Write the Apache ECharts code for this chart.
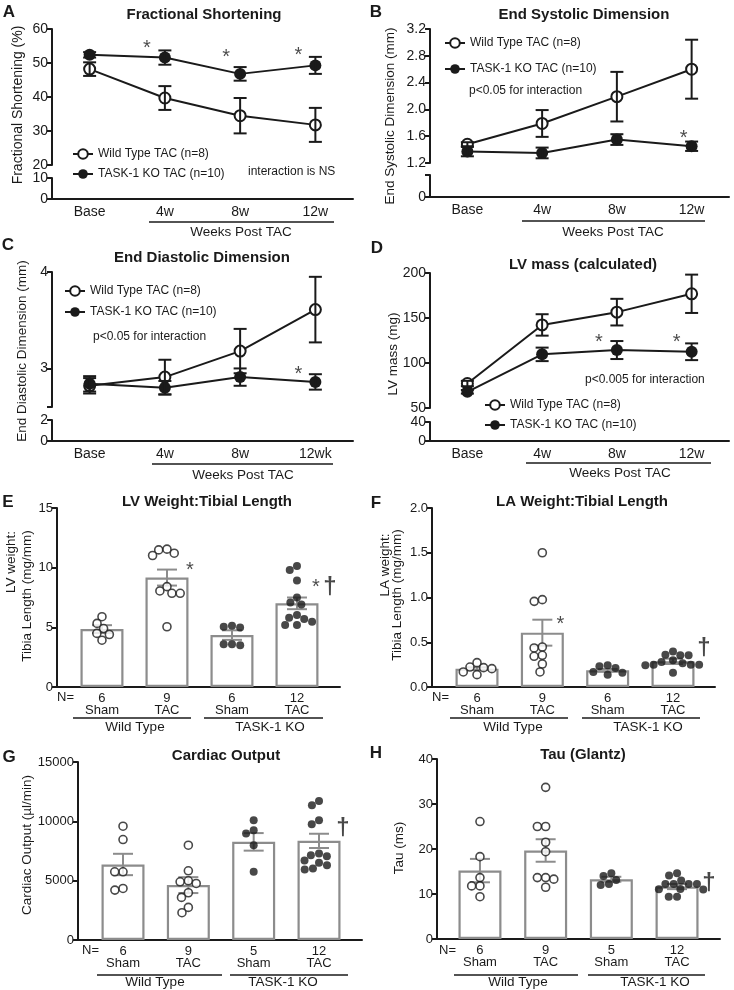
<!DOCTYPE html>
<html><head><meta charset="utf-8">
<script src="https://cdn.jsdelivr.net/npm/echarts@6.0.0/dist/echarts.min.js"></script>
<style>html,body{margin:0;padding:0;background:#fff;overflow:hidden}#c{width:734px;height:990px}</style>
</head><body><div id="c"></div>
<script>
// ================= DATA =================
const timeCats = ['Base', '4w', '8w', '12w'];
const timeCatsC = ['Base', '4w', '8w', '12wk'];
const wtName = 'Wild Type TAC (n=8)';
const koName = 'TASK-1 KO TAC (n=10)';

// A: Fractional Shortening (%), mean and SEM
const fsWT = [48.2, 39.7, 34.5, 31.8];
const fsWTerr = [2.0, 3.5, 5.2, 5.0];
const fsKO = [52.4, 51.6, 46.8, 49.3];
const fsKOerr = [0.8, 2.1, 2.0, 2.5];
// B: End Systolic Dimension (mm)
const esdWT = [1.48, 1.79, 2.19, 2.60];
const esdWTerr = [0.03, 0.20, 0.37, 0.44];
const esdKO = [1.37, 1.35, 1.55, 1.45];
const esdKOerr = [0.07, 0.08, 0.08, 0.07];
// C: End Diastolic Dimension (mm)
const eddWT = [2.82, 2.91, 3.18, 3.61];
const eddWTerr = [0.08, 0.18, 0.23, 0.34];
const eddKO = [2.84, 2.80, 2.91, 2.86];
const eddKOerr = [0.08, 0.07, 0.09, 0.08];
// D: LV mass (mg)
const lvmWT = [77.2, 142.3, 156.5, 176.9];
const lvmWTerr = [3, 11.9, 14.8, 21.3];
const lvmKO = [68, 109.6, 114.4, 112.5];
const lvmKOerr = [2, 7.5, 10, 9.3];

// bar panels: groups
const subLabels = ['Sham', 'TAC', 'Sham', 'TAC'];
const groupLabels = ['Wild Type', 'TASK-1 KO'];
// E: LV weight : tibia length
const lvwN = [6, 9, 6, 12];
const lvwMean = [4.85, 9.17, 4.35, 7.01];
const lvwSem = [0.33, 0.67, 0.40, 0.49];
const lvwPts = [
  [5.89, 5.33, 4.90, 4.49, 4.40, 3.92],
  [11.49, 11.02, 11.21, 11.55, 8.41, 7.85, 7.85, 8.05, 5.05],
  [4.99, 5.05, 5.13, 3.59, 3.50, 3.59],
  [10.15, 9.81, 8.92, 6.92, 7.09, 7.51, 5.80, 5.47, 5.19, 5.19, 5.69, 6.03]
];
// F: LA weight : tibia length
const lawN = [6, 9, 6, 12];
const lawMean = [0.205, 0.607, 0.186, 0.287];
const lawSem = [0.015, 0.145, 0.015, 0.03];
const lawPts = [
  [0.223, 0.205, 0.272, 0.168, 0.138, 0.216],
  [1.50, 0.957, 0.976, 0.447, 0.354, 0.436, 0.343, 0.257, 0.168],
  [0.231, 0.168, 0.138, 0.160, 0.212, 0.242],
  [0.361, 0.354, 0.354, 0.398, 0.298, 0.279, 0.25, 0.16, 0.242, 0.25, 0.265, 0.25]
];
// G: Cardiac output (ul/min)
const coN = [6, 9, 5, 12];
const coMean = [6364, 4626, 8270, 8354];
const coSem = [900, 670, 740, 600];
const coPts = [
  [9588, 8466, 5747, 5747, 4205, 4345],
  [7990, 5831, 4990, 4766, 4906, 3981, 3588, 2747, 2299],
  [10092, 9251, 8971, 7990, 5747],
  [11354, 11719, 10092, 9756, 7065, 7289, 7149, 6504, 6700, 6308, 5943, 6027]
];
// H: Tau (ms)
const tauN = [6, 9, 5, 12];
const tauMean = [15.2, 19.67, 13.28, 11.65];
const tauSem = [2.6, 2.5, 0.55, 0.57];
const tauPts = [
  [26.1, 18.3, 13.65, 11.8, 11.8, 9.4],
  [33.7, 25.0, 25.0, 21.5, 19.4, 13.65, 13.3, 13.65, 11.5],
  [13.1, 14.6, 14.0, 12.0, 12.2],
  [13.0, 14.6, 14.1, 12.2, 12.2, 12.2, 11.1, 11.05, 9.4, 9.4, 12.2, 11.0]
];

// significance marks: [x (category), y (value), symbol]
const marksA = [[1, 54.4, '*'], [2, 51.5, '*'], [3, 52.1, '*']];
const marksB = [[3, 1.573, '*']];
const marksC = [[3, 2.94, '*']];
const marksD = [[2, 123.3, '*'], [3, 123.3, '*']];
const marksE = [[1, 9.8, '*'], [3, 8.38, '*'], [3, 8.38, '†']];
const marksF = [[1, 0.704, '*'], [3, 0.436, '†']];
const marksG = [[3, 9438, '†']];
const marksH = [[3, 12.44, '†']];

// ================= STYLE / LAYOUT =================
const FONT = '"Liberation Sans", Arial, Helvetica, sans-serif';
const INK = '#1a1a1a';
const GRAY = '#8c8c8c';

const option = {
  animation: false, backgroundColor: '#fff',
  textStyle: { fontFamily: FONT, color: INK },
  grid: [], xAxis: [], yAxis: [], series: [], legend: [], graphic: []
};

function addGrid(r) {
  option.grid.push(Object.assign({ outerBoundsMode: 'none', containLabel: false, show: false }, r));
  return option.grid.length - 1;
}
function yAxisDef(g, c) {
  const ax = {
    gridIndex: g, type: 'value', min: c.min, max: c.max,
    axisLine: { show: true, onZero: false, lineStyle: { color: INK, width: 2 } },
    axisTick: { show: true, length: 5, lineStyle: { color: INK, width: 2 } },
    axisLabel: { color: INK, fontSize: c.fs || 14, margin: 4, fontFamily: FONT, formatter: c.fmt || (v => String(v)) },
    splitLine: { show: false }
  };
  if (c.interval != null) ax.interval = c.interval;
  if (c.labels) ax.axisLabel.customValues = c.labels;
  if (c.ticks) ax.axisTick.customValues = c.ticks;
  return ax;
}
function errSeries(xi, yi, means, errs, cap, color, width, z) {
  return {
    type: 'custom', xAxisIndex: xi, yAxisIndex: yi, z: z, silent: true, clip: false,
    data: means.map((m, i) => [i, m - errs[i], m + errs[i]]),
    renderItem: (params, api) => {
      const lo = api.coord([api.value(0), api.value(1)]);
      const hi = api.coord([api.value(0), api.value(2)]);
      const h = cap / 2, st = { stroke: color, lineWidth: width };
      return { type: 'group', children: [
        { type: 'line', shape: { x1: lo[0], y1: lo[1], x2: hi[0], y2: hi[1] }, style: st },
        { type: 'line', shape: { x1: hi[0] - h, y1: hi[1], x2: hi[0] + h, y2: hi[1] }, style: st },
        { type: 'line', shape: { x1: lo[0] - h, y1: lo[1], x2: lo[0] + h, y2: lo[1] }, style: st }
      ] };
    }
  };
}
function markSeries(xi, yi, marks, dxStar, dxDag) {
  return {
    type: 'scatter', xAxisIndex: xi, yAxisIndex: yi, silent: true, symbolSize: 0, z: 6,
    itemStyle: { color: 'transparent' },
    data: marks.map(m => ({
      value: [m[0], m[1]],
      label: { formatter: m[2], offset: [m[2] === '*' ? dxStar[m[0]] || 0 : dxDag, 0],
               fontSize: m[2] === '*' ? 20 : 24, fontWeight: m[2] === '*' ? 'normal' : 'bold' }
    })),
    label: { show: true, position: 'inside', color: INK, fontFamily: FONT }
  };
}
function text(x, y, s, o) {
  return Object.assign({ type: 'text', x: x, y: y, silent: true,
    style: Object.assign({ text: s, fill: INK, fontFamily: FONT, fontSize: 13.5, align: 'center', verticalAlign: 'middle' }, o || {}) });
}
function rtext(x, y, s, fs) {
  return { type: 'text', x: x, y: y, rotation: Math.PI / 2, silent: true,
    style: { text: s, fill: INK, fontFamily: FONT, fontSize: fs || 13.5, align: 'center', verticalAlign: 'middle' } };
}
function hline(x1, x2, y) {
  return { type: 'line', silent: true, shape: { x1: x1, y1: y, x2: x2, y2: y }, style: { stroke: INK, lineWidth: 1.5 } };
}

// ---------- line panels ----------
function linePanel(p) {
  const gu = addGrid(p.upper), gl = addGrid(p.lower);
  const xu = option.xAxis.push({ gridIndex: gu, type: 'category', data: p.cats, show: false, boundaryGap: true }) - 1;
  option.xAxis.push({
    gridIndex: gl, type: 'category', data: p.cats, boundaryGap: true,
    axisLine: { lineStyle: { color: INK, width: 2 } },
    axisTick: { alignWithLabel: true, length: 5, lineStyle: { width: 2, color: INK } },
    axisLabel: { color: INK, fontSize: 14, margin: 6, fontFamily: FONT },
    splitLine: { show: false }
  });
  const yu = option.yAxis.push(yAxisDef(gu, p.upperY)) - 1;
  option.yAxis.push(yAxisDef(gl, p.lowerY));
  option.series.push({
    type: 'line', name: wtName, xAxisIndex: xu, yAxisIndex: yu, data: p.wt,
    symbol: 'emptyCircle', symbolSize: 11, lineStyle: { color: INK, width: 2 },
    itemStyle: { color: INK, borderColor: INK, borderWidth: 2 }, z: 3, silent: true
  });
  option.series.push({
    type: 'line', name: koName, xAxisIndex: xu, yAxisIndex: yu, data: p.ko,
    symbol: 'circle', symbolSize: 12, lineStyle: { color: INK, width: 2 },
    itemStyle: { color: INK }, z: 3, silent: true
  });
  option.series.push(errSeries(xu, yu, p.wt, p.wtErr, 13, INK, 2, 4));
  option.series.push(errSeries(xu, yu, p.ko, p.koErr, 13, INK, 2, 4));
  option.series.push(markSeries(xu, yu, p.marks, p.markDx, 0));
  option.legend.push({
    left: p.legend.left, top: p.legend.top, orient: 'vertical', itemWidth: 20, itemHeight: 12,
    itemGap: p.legend.gap, selectedMode: false, padding: 0,
    textStyle: { fontSize: 12, color: INK, lineHeight: 14, fontFamily: FONT },
    data: [wtName, koName]
  });
}

// ---------- bar panels ----------
// beeswarm layout: each dot goes to the horizontal offset nearest the bar centre that does not overlap
function beeswarm(vals, pxPerY, D) {
  const placed = [], offs = new Array(vals.length);
  const order = vals.map((v, i) => i).sort((a, b) => vals[b] - vals[a]);
  order.forEach(idx => {
    const y = vals[idx] * pxPerY;
    const cands = [0];
    placed.forEach(q => {
      const dy = Math.abs(q.y - y);
      if (dy < D) { const dx = Math.sqrt(D * D - dy * dy); cands.push(q.x + dx, q.x - dx); }
    });
    cands.sort((a, b) => Math.abs(a) - Math.abs(b) || a - b);
    const x = cands.find(c => placed.every(q => (q.x - c) ** 2 + (q.y - y) ** 2 >= D * D - 1e-6));
    placed.push({ x: x, y: y }); offs[idx] = x;
  });
  return offs;
}
function barPanel(p) {
  const g = addGrid(p.grid);
  const pxPerX = p.grid.width / (p.xmax - p.xmin);
  const pxPerY = p.grid.height / (p.y.max - p.y.min);
  const xi = option.xAxis.push({
    gridIndex: g, type: 'value', min: p.xmin, max: p.xmax,
    axisLine: { onZero: false, lineStyle: { color: INK, width: 2 } },
    axisTick: { show: false }, splitLine: { show: false },
    axisLabel: { customValues: [0, 1, 2, 3], color: INK, fontSize: 13, lineHeight: 12.5, margin: 5, fontFamily: FONT,
      formatter: v => { const i = Math.round(v); return p.n[i] + '\n' + subLabels[i]; } }
  }) - 1;
  const yi = option.yAxis.push(yAxisDef(g, Object.assign({ fs: 13 }, p.y))) - 1;
  option.series.push({
    type: 'bar', xAxisIndex: xi, yAxisIndex: yi, silent: true, z: 1,
    data: p.means.map((m, i) => [i, m]), barWidth: 43,
    itemStyle: { color: '#fff', borderColor: GRAY, borderWidth: 2.2 }
  });
  option.series.push(errSeries(xi, yi, p.means, p.sem, 20, GRAY, 2, 2));
  p.pts.forEach((vals, i) => {
    const offs = beeswarm(vals, pxPerY, 8.3);
    option.series.push({
      type: 'scatter', xAxisIndex: xi, yAxisIndex: yi, silent: true, z: 4, symbolSize: 8,
      data: vals.map((v, k) => [i + offs[k] / pxPerX, v]),
      itemStyle: i < 2 ? { color: '#fff', borderColor: INK, borderWidth: 1.6 } : { color: INK }
    });
  });
  option.series.push(markSeries(xi, yi, p.marks, p.starDx, p.dagDx));
}

// ================= BUILD =================
linePanel({
  upper: { left: 52, top: 29, width: 301, height: 136 }, lower: { left: 52, top: 178, width: 301, height: 21 },
  cats: timeCats, upperY: { min: 20, max: 60, interval: 10 }, lowerY: { min: 0, max: 10, interval: 10 },
  wt: fsWT, wtErr: fsWTerr, ko: fsKO, koErr: fsKOerr, marks: marksA, markDx: { 1: -18, 2: -14, 3: -17 },
  legend: { left: 72, top: 147, gap: 6 }
});
linePanel({
  upper: { left: 430, top: 29, width: 299, height: 134 }, lower: { left: 430, top: 175, width: 299, height: 22 },
  cats: timeCats, upperY: { min: 1.2, max: 3.2, interval: 0.4, fmt: v => v.toFixed(1) },
  lowerY: { min: 0, max: 1, labels: [0], ticks: [0, 1] },
  wt: esdWT, wtErr: esdWTerr, ko: esdKO, koErr: esdKOerr, marks: marksB, markDx: { 3: -8 },
  legend: { left: 444, top: 36, gap: 12 }
});
linePanel({
  upper: { left: 52, top: 272, width: 301, height: 135 }, lower: { left: 52, top: 420, width: 301, height: 21 },
  cats: timeCatsC, upperY: { min: 2.6, max: 4, labels: [3, 4], ticks: [2.6, 3, 4] },
  lowerY: { min: 0, max: 2, interval: 2 },
  wt: eddWT, wtErr: eddWTerr, ko: eddKO, koErr: eddKOerr, marks: marksC, markDx: { 3: -17 },
  legend: { left: 64, top: 284, gap: 7 }
});
linePanel({
  upper: { left: 430, top: 273, width: 299, height: 135 }, lower: { left: 430, top: 422, width: 299, height: 19 },
  cats: timeCats, upperY: { min: 50, max: 200, interval: 50 }, lowerY: { min: 0, max: 40, interval: 40 },
  wt: lvmWT, wtErr: lvmWTerr, ko: lvmKO, koErr: lvmKOerr, marks: marksD, markDx: { 2: -18, 3: -15 },
  legend: { left: 484, top: 398, gap: 6 }
});

barPanel({ grid: { left: 57, top: 508, width: 283, height: 179 }, xmin: -0.692, xmax: 3.662,
  y: { min: 0, max: 15, interval: 5 }, n: lvwN, means: lvwMean, sem: lvwSem, pts: lvwPts,
  marks: marksE, starDx: { 1: 23, 3: 19 }, dagDx: 33 });
barPanel({ grid: { left: 432, top: 508, width: 283, height: 179 }, xmin: -0.689, xmax: 3.643,
  y: { min: 0, max: 2, interval: 0.5, fmt: v => v.toFixed(1) }, n: lawN, means: lawMean, sem: lawSem, pts: lawPts,
  marks: marksF, starDx: { 1: 18 }, dagDx: 31 });
barPanel({ grid: { left: 78, top: 762, width: 284, height: 178 }, xmin: -0.689, xmax: 3.658,
  y: { min: 0, max: 15000, interval: 5000 }, n: coN, means: coMean, sem: coSem, pts: coPts,
  marks: marksG, starDx: {}, dagDx: 24 });
barPanel({ grid: { left: 437, top: 759, width: 283, height: 180 }, xmin: -0.654, xmax: 3.654,
  y: { min: 0, max: 40, interval: 10 }, n: tauN, means: tauMean, sem: tauSem, pts: tauPts,
  marks: marksH, starDx: {}, dagDx: 32 });

// ---------- text / decorations ----------
const G = option.graphic;
const letter = (x, y, s) => text(x, y, s, { fontSize: 17, fontWeight: 'bold' });
const title = (x, y, s) => text(x, y, s, { fontSize: 15, fontWeight: 'bold' });
G.push(letter(9, 12, 'A'), letter(376, 12, 'B'), letter(8, 245, 'C'), letter(377, 248, 'D'),
       letter(8, 502, 'E'), letter(376, 503, 'F'), letter(9, 757, 'G'), letter(376, 753, 'H'));
G.push(title(204, 15, 'Fractional Shortening'), title(584, 15, 'End Systolic Dimension'),
       title(202, 258, 'End Diastolic Dimension'), title(583, 265, 'LV mass (calculated)'),
       title(207, 502, 'LV Weight:Tibial Length'), title(582, 502, 'LA Weight:Tibial Length'),
       title(226, 756, 'Cardiac Output'), title(583, 755, 'Tau (Glantz)'));
G.push(rtext(18, 105, 'Fractional Shortening (%)', 14), rtext(390, 116, 'End Systolic Dimension (mm)'),
       rtext(22, 351, 'End Diastolic Dimension (mm)'), rtext(393, 354, 'LV mass (mg)'),
       rtext(11, 562, 'LV weight:'), rtext(27, 596, 'Tibia Length (mg/mm)'),
       rtext(385, 565, 'LA weight:'), rtext(397, 595, 'Tibia Length (mg/mm)'),
       rtext(27, 845, 'Cardiac Output (µl/min)'), rtext(399, 848, 'Tau (ms)'));
const note = (x, y, s) => text(x, y, s, { fontSize: 12, align: 'left' });
G.push(note(248, 172, 'interaction is NS'), note(469, 91, 'p<0.05 for interaction'),
       note(93, 337, 'p<0.05 for interaction'), note(585, 380, 'p<0.005 for interaction'));
// weeks post TAC
[[149, 334, 222, 241, 232], [522, 705, 221, 613, 232], [152, 333, 464, 243, 475], [526, 711, 463, 620, 473]]
  .forEach(w => { G.push(hline(w[0], w[1], w[2]), text(w[3], w[4], 'Weeks Post TAC')); });
// N= and group underlines
[
  { nx: 57, ny: 697, ly: 718, l1: [73, 191], l2: [204, 323], gy: 727, g1: 135, g2: 270 },
  { nx: 432, ny: 697, ly: 718, l1: [450, 568], l2: [582, 700], gy: 727, g1: 513, g2: 648 },
  { nx: 82, ny: 950, ly: 975, l1: [97, 222], l2: [230, 348], gy: 982, g1: 155, g2: 283 },
  { nx: 439, ny: 950, ly: 975, l1: [454, 578], l2: [588, 705], gy: 982, g1: 518, g2: 655 }
].forEach(b => {
  G.push(text(b.nx, b.ny, 'N=', { align: 'left', fontSize: 13 }),
         hline(b.l1[0], b.l1[1], b.ly), hline(b.l2[0], b.l2[1], b.ly),
         text(b.g1, b.gy, groupLabels[0]), text(b.g2, b.gy, groupLabels[1]));
});

const chart = echarts.init(document.getElementById('c'), null, { renderer: 'canvas', width: 734, height: 990 });
chart.setOption(option);
</script></body></html>
